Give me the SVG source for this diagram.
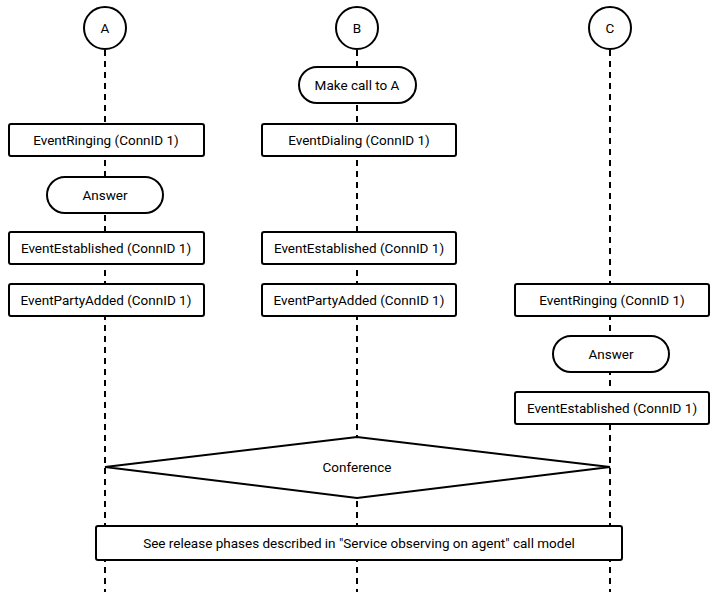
<svg xmlns="http://www.w3.org/2000/svg" width="716" height="600" viewBox="0 0 716 600">
<style>
.s{fill:#fff;stroke:#000;stroke-width:2}
.l{stroke:#000;stroke-width:2;stroke-dasharray:6,5;fill:none}
text{font-family:Roboto,"Liberation Sans",sans-serif;font-size:13.5px;text-anchor:middle;dominant-baseline:central;fill:#000}
</style>
<rect width="716" height="600" fill="#fff"/>
<g id="connectors">
<line class="l" x1="105" y1="50" x2="105" y2="592"/>
<line class="l" x1="357" y1="50" x2="357" y2="592"/>
<line class="l" x1="610" y1="50" x2="610" y2="592"/>
</g>
<g id="A"><circle class="s" cx="105" cy="28" r="21"/><text x="105" y="28">A</text></g>
<g id="B"><circle class="s" cx="357" cy="28" r="21"/><text x="357" y="28">B</text></g>
<g id="C"><circle class="s" cx="610" cy="28" r="21"/><text x="610" y="28">C</text></g>
<g id="makecall"><rect class="s" x="299" y="67" width="117" height="36" rx="18"/><text x="357" y="85">Make call to A</text></g>
<g id="ringA"><rect class="s" x="9" y="124" width="195" height="32" rx="2"/><text x="106" y="140">EventRinging (ConnID 1)</text></g>
<g id="dialB"><rect class="s" x="262" y="124" width="194" height="32" rx="2"/><text x="359" y="140">EventDialing (ConnID 1)</text></g>
<g id="answerA"><rect class="s" x="47" y="177" width="116" height="36" rx="18"/><text x="105" y="195">Answer</text></g>
<g id="estA"><rect class="s" x="9" y="232" width="195" height="32" rx="2"/><text x="106" y="248">EventEstablished (ConnID 1)</text></g>
<g id="estB"><rect class="s" x="262" y="232" width="194" height="32" rx="2"/><text x="359" y="248">EventEstablished (ConnID 1)</text></g>
<g id="paA"><rect class="s" x="9" y="284" width="195" height="32" rx="2"/><text x="106" y="300">EventPartyAdded (ConnID 1)</text></g>
<g id="paB"><rect class="s" x="262" y="284" width="194" height="32" rx="2"/><text x="359" y="300">EventPartyAdded (ConnID 1)</text></g>
<g id="ringC"><rect class="s" x="515" y="284" width="194" height="32" rx="2"/><text x="612" y="300">EventRinging (ConnID 1)</text></g>
<g id="answerC"><rect class="s" x="553" y="336" width="116" height="36" rx="18"/><text x="611" y="354">Answer</text></g>
<g id="estC"><rect class="s" x="515" y="392" width="194" height="32" rx="2"/><text x="612" y="408">EventEstablished (ConnID 1)</text></g>
<g id="conf"><polygon class="s" points="105,467 357,437 610,467 357,498"/><text x="357" y="467">Conference</text></g>
<g id="release"><rect class="s" x="96" y="526" width="526" height="34" rx="2"/><text x="359" y="543">See release phases described in "Service observing on agent" call model</text></g>
</svg>
